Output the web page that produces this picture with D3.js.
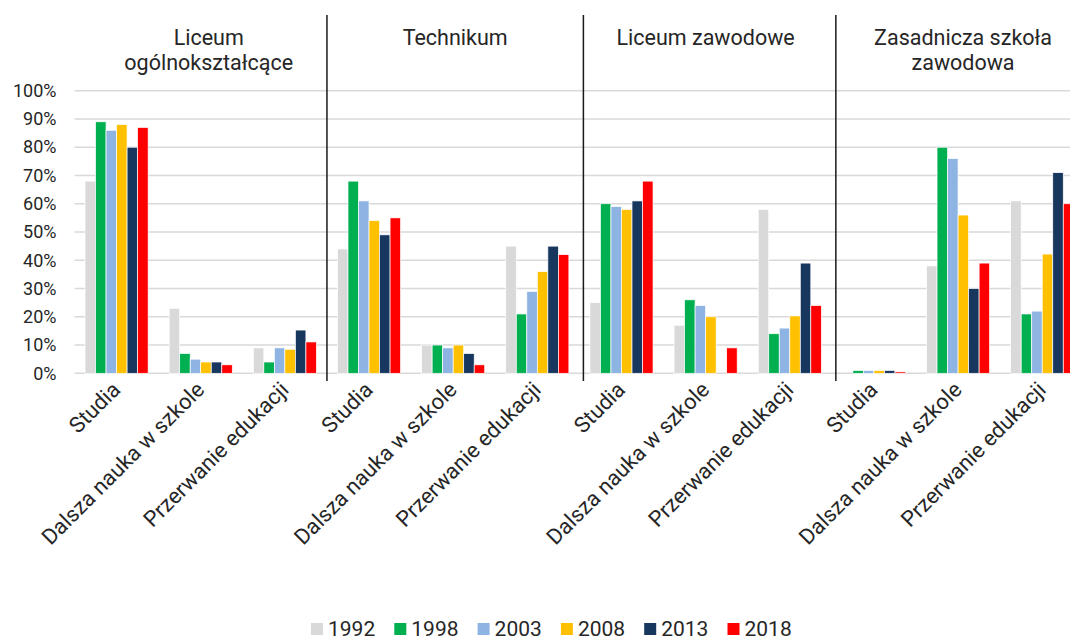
<!DOCTYPE html>
<html><head><meta charset="utf-8">
<script src="https://cdn.jsdelivr.net/npm/d3@7/dist/d3.min.js"></script>
<style>
html,body{margin:0;padding:0;background:#fff;}
svg{display:block;font-family:Roboto,"Noto Sans",sans-serif;}
</style></head>
<body>
<svg id="chart" width="1070" height="639"></svg>
<script>
// ---- data ----
const panelTitles = [["Liceum","ogólnokształcące"],["Technikum"],["Liceum zawodowe"],["Zasadnicza szkoła","zawodowa"]];
const outcomes = ["Studia","Dalsza nauka w szkole","Przerwanie edukacji"];
const years = ["1992","1998","2003","2008","2013","2018"];
const yTicks = [0,10,20,30,40,50,60,70,80,90,100];
const yTickLabels = ["0%","10%","20%","30%","40%","50%","60%","70%","80%","90%","100%"];
const colors = ["#d9d9d9","#00b050","#8eb4e3","#ffc000","#17375e","#ff0000"];
// values in %, order: panel1(Studia, Dalsza, Przerwanie), panel2, panel3, panel4
const v1992 = [68,23,9,   44,10,45,  25,17,58,   0,38,61];
const v1998 = [89,7,4,    68,10,21,  60,26,14,   1,80,21];
const v2003 = [86,5,9,    61,9,29,   59,24,16,   1,76,22];
const v2008 = [88,4,8.5,  54,10,36,  58,20,20.3, 1,56,42.2];
const v2013 = [80,4,15.3, 49,7,45,   61,null,39, 1,30,71];
const v2018 = [87,3,11.1, 55,3,42,   68,9,24,    0.5,39,60];
const series = [v1992,v1998,v2003,v2008,v2013,v2018];

// ---- layout ----
const svg = d3.select("#chart");
const W = 1070, H = 639;
const plotLeft = 74.5, catStep = 84.15;
const plotTop = 90.7, plotBottom = 373.3;
const cats = [];
panelTitles.forEach((p,pi)=>outcomes.forEach(o=>cats.push(pi+"|"+o)));
const x0 = d3.scaleBand().domain(cats).range([plotLeft, plotLeft + catStep*cats.length]).padding(0);
const x1 = d3.scaleBand().domain(years).range([0, x0.bandwidth()]).paddingInner(0).paddingOuter(1);
const y = d3.scaleLinear().domain([0,100]).range([plotBottom, plotTop]);

// gridlines
svg.append("g").selectAll("line").data(yTicks).join("line")
  .attr("x1", plotLeft).attr("x2", W)
  .attr("y1", d=>y(d)).attr("y2", d=>y(d))
  .attr("stroke", "#d9d9d9").attr("stroke-width", 1.5);

// y axis labels
const yAxis = d3.axisLeft(y).tickValues(yTicks).tickFormat((d,i)=>yTickLabels[i]).tickSize(0).tickPadding(0);
const ya = svg.append("g").attr("transform", `translate(${plotLeft-18},0)`).call(yAxis);
ya.select(".domain").remove();
ya.selectAll("text").attr("font-size", 18).attr("fill", "#262626").attr("font-family","Roboto");

// bars
const barsG = svg.append("g");
series.forEach((vals, si)=>{
  barsG.append("g").selectAll("rect")
    .data(vals.map((v,ci)=>({cat:cats[ci], v})).filter(d=>d.v!=null && d.v>0))
    .join("rect")
    .attr("x", d=>x0(d.cat)+x1(years[si]))
    .attr("width", x1.bandwidth())
    .attr("y", d=>y(d.v))
    .attr("height", d=>y(0)-y(d.v))
    .attr("fill", colors[si])
    .attr("stroke", "#fff").attr("stroke-width", 0.7);
});

// panel dividers
const divNudge = [0, 4, 4];
[1,2,3].forEach((p,i)=>{
  const xx = x0(cats[p*3]) + divNudge[i];
  svg.append("line").attr("x1", xx).attr("x2", xx).attr("y1", 15).attr("y2", 381)
    .attr("stroke", "#1a1a1a").attr("stroke-width", 1.5);
});

// panel titles
const titleNudge = [8, 2, 0, 5];
panelTitles.forEach((lines, pi)=>{
  const cx = x0(cats[pi*3+1]) + x0.bandwidth()/2 + titleNudge[pi];
  const t = svg.append("text").attr("text-anchor","middle").attr("font-size", 21.5).attr("fill","#262626");
  lines.forEach((ln, li)=>{
    t.append("tspan").attr("x", cx).attr("y", 45 + li*25).text(ln);
  });
});

// x labels
svg.append("g").selectAll("text").data(cats).join("text")
  .attr("transform", d=>`translate(${x0(d)+x0.bandwidth()/2+5},${391}) rotate(-45)`)
  .attr("text-anchor","end")
  .attr("font-size", 21.8).attr("fill","#262626")
  .text(d=>d.split("|")[1]);

// legend
const lx = d3.scaleBand().domain(years).range([311, 311 + 83.3*years.length]);
const lg = svg.append("g").selectAll("g").data(years).join("g")
  .attr("transform", d=>`translate(${lx(d)},623)`);
lg.append("rect").attr("width",12).attr("height",12).attr("fill",(d,i)=>colors[i]);
lg.append("text").attr("x",17).attr("y",12.5).attr("font-size",21).attr("fill","#262626").text(d=>d);
</script>
</body></html>
